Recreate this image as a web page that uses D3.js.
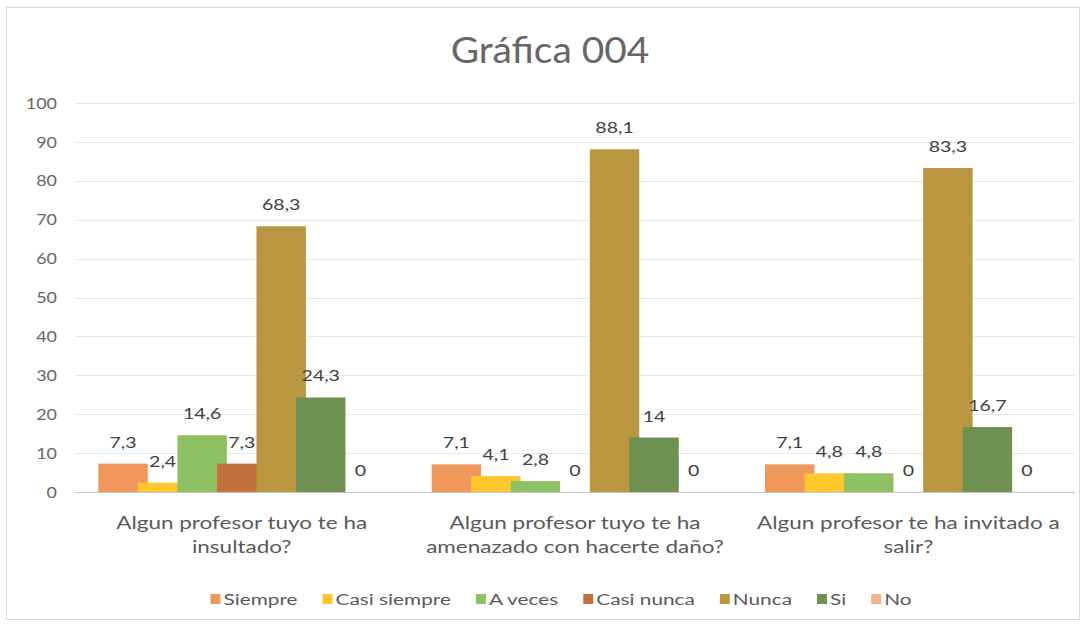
<!DOCTYPE html>
<html>
<head>
<meta charset="utf-8">
<script src="https://cdn.jsdelivr.net/npm/d3@7"></script>
<style>
  html, body { margin: 0; padding: 0; background: #ffffff; }
  svg { display: block; font-family: Lato, "Open Sans", sans-serif; }
</style>
</head>
<body>
<svg id="chart" width="1086" height="628"></svg>
<script>
const title = "Gráfica 004";
const categories = [
  ["Algun profesor tuyo te ha", "insultado?"],
  ["Algun profesor tuyo te ha", "amenazado con hacerte daño?"],
  ["Algun profesor te ha invitado a", "salir?"]
];
const seriesNames = ["Siempre", "Casi siempre", "A veces", "Casi nunca", "Nunca", "Si", "No"];
const seriesColors = ["#F0985C", "#FFC72E", "#8EC064", "#C2703C", "#B9963F", "#6E9151", "#F4B48A"];
const siempre     = [7.3, 7.1, 7.1];
const casiSiempre = [2.4, 4.1, 4.8];
const aVeces      = [14.6, 2.8, 4.8];
const casiNunca   = [7.3, 0, 0];
const nunca       = [68.3, 88.1, 83.3];
const si          = [24.3, 14, 16.7];
const no          = [0, 0, 0];
const yTicks = [0, 10, 20, 30, 40, 50, 60, 70, 80, 90, 100];

const seriesValues = [siempre, casiSiempre, aVeces, casiNunca, nunca, si, no];
const fmt = v => String(v).replace(".", ",");

const svg = d3.select("#chart");
const plotL = 75, plotR = 1075, plotT = 103, plotB = 492;
const textGray = "#595959";

// outer border
svg.append("rect").attr("x", 6.5).attr("y", 7.5).attr("width", 1073).attr("height", 612)
  .attr("fill", "#fff").attr("stroke", "#d9d9d9").attr("stroke-width", 1);

const x0 = d3.scaleBand().domain(d3.range(categories.length)).range([plotL, plotR])
  .paddingInner(0.14).paddingOuter(0.07);
const overlap = 0.2;
const nS = seriesNames.length;
const barW = x0.bandwidth() / ((nS - 1) * (1 - overlap) + 1);
const x1 = d3.scaleLinear().domain([0, nS - 1]).range([0, x0.bandwidth() - barW]);
const y = d3.scaleLinear().domain([0, 100]).range([plotB, plotT]);

// gridlines
svg.append("g").selectAll("line").data(yTicks.filter(t => t > 0)).join("line")
  .attr("x1", plotL).attr("x2", plotR)
  .attr("y1", d => Math.round(y(d)) + 0.5).attr("y2", d => Math.round(y(d)) + 0.5)
  .attr("stroke", "#e6e6e6").attr("stroke-width", 1);

// y axis labels
const yAxis = d3.axisLeft(y).tickValues(yTicks).tickSize(0).tickPadding(0);
const gy = svg.append("g").attr("transform", `translate(${plotL - 18},0)`).call(yAxis);
gy.select(".domain").remove();
gy.selectAll("text").attr("fill", "#666").style("font-size", "16px")
  .style("font-family", "Lato, 'Open Sans', sans-serif")
  .attr("x", 0).attr("transform", "scale(1.12,1)");

// bars
seriesValues.forEach((vals, k) => {
  const g = svg.append("g");
  g.selectAll("rect").data(vals).join("rect")
    .attr("x", (d, i) => x0(i) + x1(k))
    .attr("y", d => y(d))
    .attr("width", barW)
    .attr("height", d => y(0) - y(d))
    .attr("fill", seriesColors[k]);
});

// baseline
svg.append("line").attr("x1", plotL).attr("x2", plotR)
  .attr("y1", Math.round(y(0)) + 0.5).attr("y2", Math.round(y(0)) + 0.5)
  .attr("stroke", "#c8c8c8").attr("stroke-width", 1);

// data labels
seriesValues.forEach((vals, k) => {
  svg.append("g").selectAll("text").data(vals).join("text")
    .attr("transform", (d, i) => `translate(${x0(i) + x1(k) + barW / 2},${y(d) - 16}) scale(1.22,1)`)
    .attr("text-anchor", "middle")
    .attr("fill", "#404040")
    .style("font-size", "16px")
    .text(d => fmt(d));
});

// category labels
const xAxisG = svg.append("g");
categories.forEach((lines, i) => {
  const cx = x0(i) + x0.bandwidth() / 2;
  lines.forEach((ln, k) => {
    xAxisG.append("text")
      .attr("transform", `translate(${cx},${529 + k * 24}) scale(1.25,1)`)
      .attr("text-anchor", "middle")
      .attr("fill", textGray)
      .style("font-size", "18px")
      .text(ln);
  });
});

// title
svg.append("text").attr("transform", "translate(550,63) scale(1.08,1)").attr("text-anchor", "middle")
  .attr("fill", "#666").style("font-size", "36px").text(title);

// legend
const legend = svg.append("g");
const lsx = 1.3;
let lx = 0;
seriesNames.forEach((name, i) => {
  const g = legend.append("g").attr("transform", `translate(${lx},0)`);
  g.append("rect").attr("x", 0).attr("y", -5).attr("width", 10).attr("height", 10).attr("fill", seriesColors[i]);
  const t = g.append("text").attr("transform", `translate(13,6) scale(${lsx},1)`).attr("fill", textGray)
    .style("font-size", "16px").text(name);
  const w = t.node().getComputedTextLength() * lsx;
  lx += 13 + w + 25;
});
const totalW = lx - 25;
legend.attr("transform", `translate(${561 - totalW / 2},599)`);
</script>
</body>
</html>
